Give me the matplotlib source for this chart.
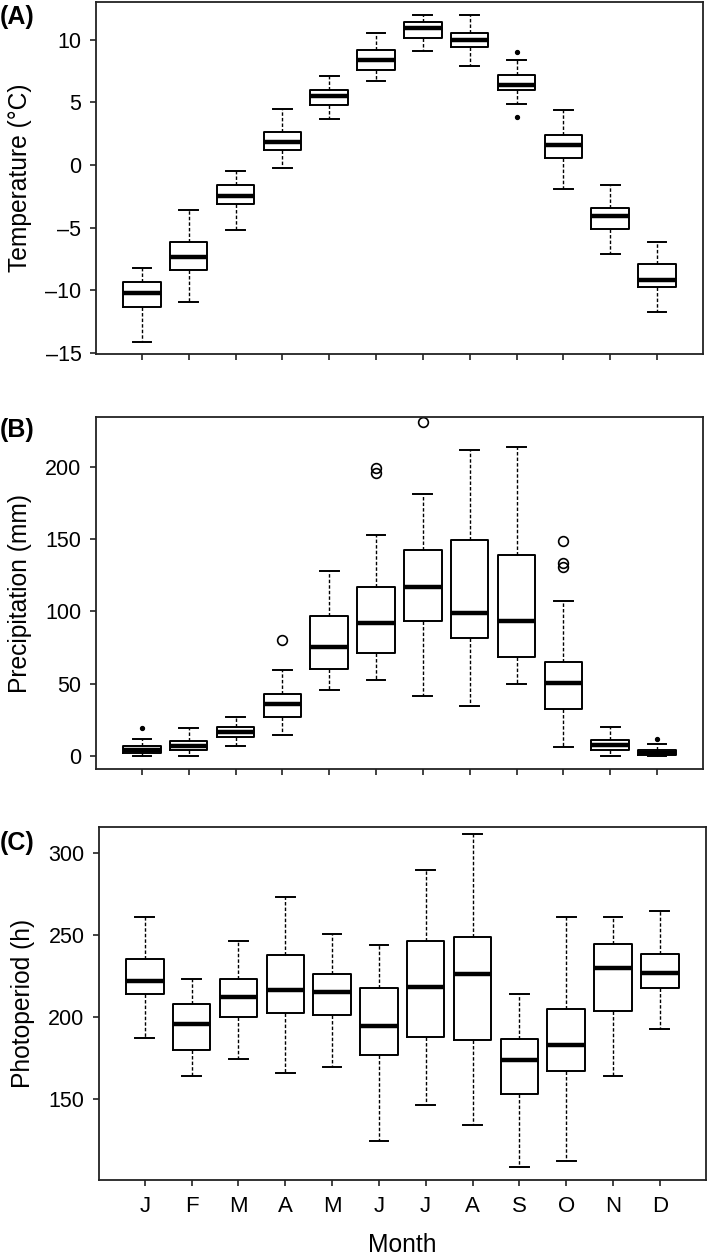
import matplotlib.pyplot as plt

plt.rcParams['font.family'] = ['Liberation Sans', 'DejaVu Sans']

months = ["J", "F", "M", "A", "M", "J", "J", "A", "S", "O", "N", "D"]

# (A) temperature, deg C
temp_low = [-14.1, -10.9, -5.2, -0.2, 3.7, 6.7, 9.1, 7.9, 4.9, -1.9, -7.1, -11.7]
temp_q1 = [-11.3, -8.4, -3.1, 1.2, 4.8, 7.6, 10.1, 9.4, 6.0, 0.6, -5.1, -9.7]
temp_med = [-10.2, -7.3, -2.5, 1.8, 5.5, 8.4, 10.9, 10.0, 6.4, 1.6, -4.1, -9.2]
temp_q3 = [-9.3, -6.1, -1.6, 2.6, 6.0, 9.2, 11.4, 10.5, 7.2, 2.4, -3.4, -7.9]
temp_high = [-8.2, -3.6, -0.5, 4.5, 7.1, 10.5, 12.0, 12.0, 8.4, 4.4, -1.6, -6.1]
temp_out_month = [9, 9]
temp_out_value = [9.0, 3.8]

# (B) precipitation, mm
prec_low = [0.0, 0.0, 6.7, 14.8, 45.6, 52.6, 41.5, 34.6, 50.0, 6.2, 0.0, 0.0]
prec_q1 = [2.1, 3.9, 12.9, 26.7, 60.4, 71.2, 93.6, 81.4, 68.7, 32.3, 4.1, 0.7]
prec_med = [3.9, 7.1, 16.8, 36.0, 75.5, 92.2, 117.1, 98.9, 93.6, 50.5, 7.4, 2.3]
prec_q3 = [6.9, 10.1, 20.3, 43.1, 96.8, 117.1, 142.2, 149.6, 139.0, 65.2, 11.1, 4.1]
prec_high = [11.8, 19.4, 26.7, 59.5, 128.2, 153.1, 181.2, 211.6, 213.5, 107.0, 20.1, 8.3]
prec_out_month = [4, 6, 6, 7, 10, 10, 10]
prec_out_value = [80.2, 198.9, 195.5, 231.0, 148.7, 133.7, 130.5]
prec_dot_month = [1, 12]
prec_dot_value = [19.6, 11.5]

# (C) photoperiod, h
phot_low = [187.1, 164.4, 174.3, 165.8, 169.8, 124.8, 146.5, 134.1, 108.8, 112.7, 163.9, 192.5]
phot_q1 = [214.0, 180.0, 200.0, 202.7, 201.1, 176.7, 188.1, 186.3, 153.2, 167.4, 203.9, 217.5]
phot_med = [221.9, 196.0, 212.0, 216.5, 215.2, 194.6, 218.5, 226.0, 173.9, 182.8, 230.0, 226.6]
phot_q3 = [235.5, 208.2, 223.0, 238.0, 226.0, 217.5, 246.5, 248.7, 186.7, 204.9, 244.4, 238.6]
phot_high = [261.1, 223.0, 246.1, 272.8, 250.5, 244.0, 289.5, 311.4, 214.0, 261.1, 260.9, 264.3]


def stats(low, q1, med, q3, high):
    return [dict(whislo=a, q1=b, med=c, q3=d, whishi=e)
            for a, b, c, d, e in zip(low, q1, med, q3, high)]


def draw(ax, st, ylim, yticks, ylabel):
    pos = range(1, 13)
    ax.bxp(st, positions=pos, widths=0.8, capwidths=0.4, showfliers=False,
           boxprops=dict(color="black", linewidth=1.4),
           medianprops=dict(color="black", linewidth=3.2, solid_capstyle="butt"),
           whiskerprops=dict(color="black", linewidth=1.0, linestyle=(0, (2.5, 1.5))),
           capprops=dict(color="black", linewidth=1.4))
    ax.set_xlim(0.02, 12.98)
    ax.set_ylim(*ylim)
    ax.set_yticks(yticks)
    ax.set_yticklabels([str(t).replace("-", "\u2013") for t in yticks])
    ax.set_xticks(list(pos))
    ax.tick_params(axis="both", direction="out", length=4.5, width=1.2,
                   labelsize=15.5, color="#222222")
    ax.tick_params(axis="y", pad=6)
    ax.tick_params(axis="x", pad=7, labelsize=16)
    for s in ax.spines.values():
        s.set_linewidth(1.3)
        s.set_color("#222222")
    ax.set_ylabel(ylabel, fontsize=17.7)
    ax.yaxis.set_label_coords(-0.105, 0.5)


fig = plt.figure(figsize=(7.09, 12.6), dpi=100)
axA = fig.add_axes([0.1354, 0.7187, 0.856, 0.2797])
axB = fig.add_axes([0.1354, 0.3894, 0.856, 0.2799])
axC = fig.add_axes([0.1396, 0.0635, 0.8557, 0.2804])

draw(axA, stats(temp_low, temp_q1, temp_med, temp_q3, temp_high),
     (-15.1, 13.0), [-15, -10, -5, 0, 5, 10], "Temperature (\u00b0C)")
axA.plot(temp_out_month, temp_out_value, "o", color="black", markersize=2.8)
axA.set_xticklabels([])

draw(axB, stats(prec_low, prec_q1, prec_med, prec_q3, prec_high),
     (-9.2, 234.6), [0, 50, 100, 150, 200], "Precipitation (mm)")
axB.plot(prec_out_month, prec_out_value, "o", markerfacecolor="none",
         markeredgecolor="black", markersize=7, markeredgewidth=1.2)
axB.plot(prec_dot_month, prec_dot_value, "o", color="black", markersize=2.8)
axB.set_xticklabels([])

draw(axC, stats(phot_low, phot_q1, phot_med, phot_q3, phot_high),
     (100.9, 315.8), [150, 200, 250, 300], "Photoperiod (h)")
axC.set_xticklabels(months)
axC.set_xlabel("Month", fontsize=17.7)
axC.xaxis.set_label_coords(0.5, -0.204)
axC.xaxis.label.set_va("baseline")

fig.text(0.0, 1 - 17 / 1260, "(A)", fontsize=18, fontweight="bold", va="center")
fig.text(0.0, 1 - 430 / 1260, "(B)", fontsize=18, fontweight="bold", va="center")
fig.text(0.0, 1 - 843 / 1260, "(C)", fontsize=18, fontweight="bold", va="center")

fig.savefig("out.png", dpi=100)
